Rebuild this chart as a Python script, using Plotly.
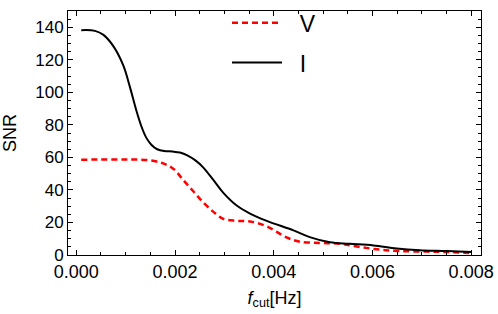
import plotly.graph_objects as go

# Data
f_I = [0.0001, 0.00038, 0.00055, 0.00075, 0.00095, 0.00109, 0.00122, 0.00132,
       0.00142, 0.00152, 0.00164, 0.00178, 0.00195, 0.0021, 0.00225, 0.00242,
       0.00257, 0.00278, 0.00298, 0.00325, 0.00352, 0.00386, 0.0044, 0.00473,
       0.00514, 0.00554, 0.00602, 0.00649, 0.00696, 0.0075, 0.008]
snr_I = [138.2, 137.8, 135.3, 128.4, 116.7, 102.9, 88.5, 79.0,
         72.0, 67.8, 65.0, 63.9, 63.6, 63.0, 61.3, 58.0,
         53.9, 46.0, 38.2, 30.4, 25.5, 21.0, 15.1, 11.0,
         7.8, 6.9, 5.9, 4.0, 2.9, 2.4, 1.8]

f_V = [0.0001, 0.0006, 0.00109, 0.00149, 0.00176, 0.00197, 0.00217, 0.00237,
       0.00257, 0.00278, 0.00298, 0.00325, 0.00352, 0.00386, 0.00426, 0.00453,
       0.00494, 0.00535, 0.00575, 0.00615, 0.00656, 0.0071, 0.0075, 0.008]
snr_V = [58.6, 58.7, 58.7, 58.2, 56.3, 52.9, 46.0, 39.2,
         32.4, 26.5, 22.2, 21.0, 20.6, 17.6, 10.8, 8.2,
         7.4, 6.9, 4.9, 3.3, 2.4, 2.1, 1.8, 1.2]

x_ticks = [0.0, 0.002, 0.004, 0.006, 0.008]
x_ticklabels = ["0.000", "0.002", "0.004", "0.006", "0.008"]
y_ticks = [0, 20, 40, 60, 80, 100, 120, 140]

FONT = "Liberation Sans, Arial, sans-serif"

fig = go.Figure()
fig.add_trace(go.Scatter(
    x=f_V, y=snr_V, mode="lines", name="\u00a0\u00a0V", legendgroup="V",
    line=dict(color="#ff0000", width=2.5, dash="6px,4px", shape="spline", smoothing=1.0),
))
fig.add_trace(go.Scatter(
    x=f_I, y=snr_I, mode="lines", name="\u00a0\u00a0I", legendgroup="I",
    line=dict(color="#000000", width=2, shape="spline", smoothing=1.0),
))

axis_common = dict(
    showline=True, linecolor="black", linewidth=1, mirror="allticks",
    ticks="inside", tickcolor="black", ticklen=5, tickwidth=1,
    showgrid=False, zeroline=False, automargin=False,
)

fig.update_layout(
    width=498, height=314,
    margin=dict(l=68, r=17, t=1, b=59),
    paper_bgcolor="white", plot_bgcolor="white",
    font=dict(family=FONT, size=17, color="black"),
    xaxis=dict(
        range=[-0.000168, 0.0082],
        tickvals=x_ticks, ticktext=x_ticklabels,
        tickfont=dict(family=FONT, size=18, color="black"),
        minor=dict(dtick=0.0005, ticks="inside", ticklen=3, tickcolor="black", showgrid=False),
        title=dict(text="<i>f</i><sub>cut</sub>[Hz]", font=dict(family=FONT, size=18), standoff=10),
        **axis_common,
    ),
    yaxis=dict(
        range=[0, 150],
        tickvals=y_ticks,
        tickfont=dict(family=FONT, size=17, color="black"),
        minor=dict(dtick=5, ticks="inside", ticklen=3, tickcolor="black", showgrid=False),
        title=dict(text="SNR", font=dict(family=FONT, size=18), standoff=13),
        **axis_common,
    ),
    legend=dict(
        x=0.385, y=1.04, xanchor="left", yanchor="top",
        font=dict(family=FONT, size=23, color="black"),
        bgcolor="rgba(0,0,0,0)", tracegroupgap=7, itemwidth=50,
    ),
    showlegend=True,
)

fig.write_html(
    "out.html",
    config={"displayModeBar": False},
    post_script="document.body.style.margin='0';document.body.style.overflow='hidden';",
)
